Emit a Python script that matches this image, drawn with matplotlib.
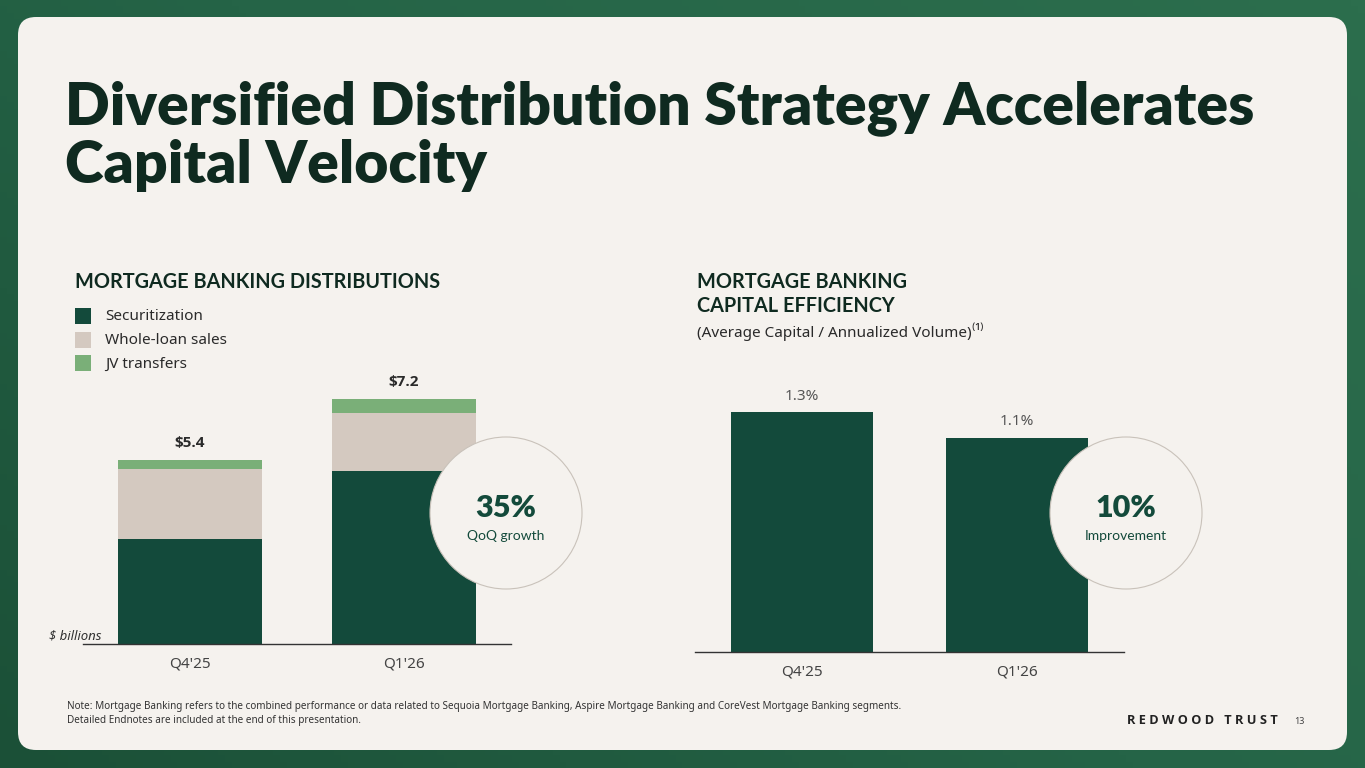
import numpy as np
import matplotlib
matplotlib.use("Agg")
import matplotlib.pyplot as plt
from matplotlib.patches import FancyBboxPatch, Circle, Rectangle
from matplotlib.colors import LinearSegmentedColormap

# data
quarters = ["Q4'25", "Q1'26"]
securitization = [3.1, 5.1]
whole_loan = [2.05, 1.7]
jv_transfers = [0.25, 0.4]
total_labels = ["$5.4", "$7.2"]
cap_eff = [1.3, 1.16]
cap_eff_labels = ["1.3%", "1.1%"]

DARK = "#134a3b"
BEIGE = "#d4c9c0"
LGREEN = "#7aaf78"
CARD = "#f5f2ee"
INK = "#0f2a20"
BODY = ["Noto Sans", "DejaVu Sans"]
BOLD = ["Open Sans", "DejaVu Sans"]
HEAD = ["Lato", "DejaVu Sans"]

W, H = 1365, 768
fig = plt.figure(figsize=(W / 100, H / 100), dpi=100)


def pax(l, t, r, b, z=1):
    return fig.add_axes([l / W, 1 - b / H, (r - l) / W, (b - t) / H], zorder=z)


def fit(txt, width):
    bb = txt.get_window_extent(renderer=fig.canvas.get_renderer())
    txt.set_fontsize(txt.get_fontsize() * width / bb.width)


# background + card
bg = fig.add_axes([0, 0, 1, 1], zorder=0)
bg.set_xlim(0, W); bg.set_ylim(H, 0); bg.axis("off")
cmap = LinearSegmentedColormap.from_list("g", ["#1b5037", "#256447", "#2c6e4d"])
gx, gy = np.meshgrid(np.linspace(0, 1, 200), np.linspace(0, 1, 120))
bg.imshow(gx * 0.6 + (1 - gy) * 0.4, extent=(0, W, H, 0), cmap=cmap, aspect="auto")
r = 18
bg.add_patch(FancyBboxPatch((18 + r, 17 + r), 1329 - 2 * r, 733 - 2 * r,
                            boxstyle=f"round,pad={r}", fc=CARD, ec="none"))

# title
t1 = bg.text(65, 124, "Diversified Distribution Strategy Accelerates", fontsize=40,
             fontweight="heavy", color=INK, family=HEAD, va="baseline")
fit(t1, 1188)
bg.text(65, 183, "Capital Velocity", fontsize=t1.get_fontsize(), fontweight="heavy",
        color=INK, family=HEAD, va="baseline")

# left chart
ax1 = pax(83, 380, 511, 644)
x = np.arange(len(quarters))
bw = 0.67
ax1.bar(x, securitization, bw, color=DARK)
ax1.bar(x, whole_loan, bw, bottom=securitization, color=BEIGE)
bot2 = np.add(securitization, whole_loan)
ax1.bar(x, jv_transfers, bw, bottom=bot2, color=LGREEN)
tops = bot2 + np.array(jv_transfers)
for xi, tp, lb in zip(x, tops, total_labels):
    ax1.annotate(lb, (xi, tp), xytext=(0, 12.5), textcoords="offset points",
                 ha="center", va="center", fontsize=11, fontweight="bold",
                 color="#2a2a2a", family=BOLD)
ax1.set_xlim(-0.5, 1.5)
ax1.set_ylim(0, 264 / 34.0)

# right chart
ax2 = pax(695, 380, 1124, 652)
ax2.bar(x, cap_eff, 0.66, color=DARK)
for xi, v, lb in zip(x, cap_eff, cap_eff_labels):
    ax2.annotate(lb, (xi, v), xytext=(0, 11.5), textcoords="offset points",
                 ha="center", va="center", fontsize=11, color="#555555", family=BODY)
ax2.set_xlim(-0.5, 1.5)
ax2.set_ylim(0, 272 / 184.6)

for ax in (ax1, ax2):
    ax.patch.set_alpha(0)
    for s in ("top", "right", "left"):
        ax.spines[s].set_visible(False)
    ax.spines["bottom"].set_color("#333333")
    ax.spines["bottom"].set_linewidth(1)
    ax.set_yticks([])
    ax.set_xticks(x)
    ax.set_xticklabels(quarters, fontsize=11, color="#444444", family=BODY)
    ax.tick_params(axis="x", length=0, pad=9)

# overlay for headers, legend, circles, footer
ov = fig.add_axes([0, 0, 1, 1], zorder=5)
ov.set_xlim(0, W); ov.set_ylim(H, 0); ov.axis("off")
ov.patch.set_alpha(0)

h1 = ov.text(75, 282, "MORTGAGE BANKING DISTRIBUTIONS", fontsize=13, fontweight="bold",
             color=INK, family=HEAD, va="center")
fit(h1, 365)
hs = h1.get_fontsize()
ov.text(697, 282, "MORTGAGE BANKING", fontsize=hs, fontweight="bold", color=INK,
        family=HEAD, va="center")
ov.text(697, 306, "CAPITAL EFFICIENCY", fontsize=hs, fontweight="bold", color=INK,
        family=HEAD, va="center")
ov.text(697, 332, "(Average Capital / Annualized Volume)\u207d\u00b9\u207e", fontsize=11,
        color="#2a2a2a", family=BODY, va="center")

legend_items = [("Securitization", DARK), ("Whole-loan sales", BEIGE), ("JV transfers", LGREEN)]
for i, (name, c) in enumerate(legend_items):
    yc = 316 + i * 23.5
    ov.add_patch(Rectangle((75, yc - 8), 16, 16, fc=c, ec="none"))
    ov.text(105, yc + 1, name, fontsize=11, color="#2a2a2a", family=BODY, va="center")

ov.text(49, 636, "$ billions", fontsize=9.5, style="italic", color="#333333",
        family=BODY, va="center")

for cx, big, small in [(506, "35%", "QoQ growth"), (1126, "10%", "Improvement")]:
    ov.add_patch(Circle((cx, 513), 76, fc=CARD, ec="#c9c2ba", lw=0.8))
    ov.text(cx, 508, big, fontsize=22, fontweight="heavy", color=DARK, family=HEAD,
            ha="center", va="center")
    ov.text(cx, 536, small, fontsize=10, color=DARK, family=HEAD, ha="center", va="center")

# footer
n1 = ov.text(67, 706, "Note: Mortgage Banking refers to the combined performance or data related to "
             "Sequoia Mortgage Banking, Aspire Mortgage Banking and CoreVest Mortgage Banking segments.",
             fontsize=7.5, color="#333333", family=BODY, va="center")
fit(n1, 836)
ov.text(67, 720, "Detailed Endnotes are included at the end of this presentation.",
        fontsize=n1.get_fontsize(), color="#333333", family=BODY, va="center")
rt = ov.text(1127, 721, "R E D W O O D   T R U S T", fontsize=8, fontweight="bold",
             color="#222222", family=BOLD, va="center")
fit(rt, 150)
ov.text(1294, 721, "13", fontsize=6.5, color="#444444", family=BODY, va="center")

fig.savefig("out.png", dpi=100, facecolor=fig.get_facecolor())
